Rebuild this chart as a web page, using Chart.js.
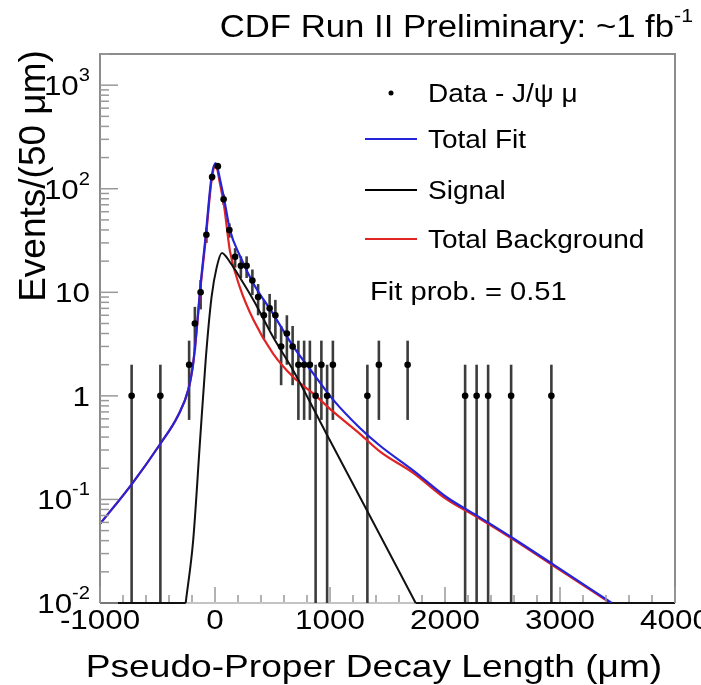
<!DOCTYPE html>
<html lang="en">
<head>
<meta charset="utf-8" />
<title>CDF Run II - Pseudo-Proper Decay Length</title>
<script src="https://cdn.jsdelivr.net/npm/chart.js@4.4.1/dist/chart.umd.min.js"></script>
<style>
  html, body { margin: 0; padding: 0; background: #fff; }
  canvas { display: block; }
</style>
</head>
<body>
<canvas id="grafico" width="701" height="685"></canvas>
<script>
// data: bin centres (um) and events per 50 um bin
const binCentres = [-725, -475, -225, -175, -125, -75, -25, 25, 75, 125, 175, 225, 275, 325, 375, 425, 475, 525, 575, 625, 675, 725, 775, 825, 875, 925, 975, 1025, 1325, 1425, 1675, 2175, 2275, 2375, 2575, 2925];
const events = [1, 1, 2, 5, 10, 36, 130, 165, 79, 40, 22, 18, 18, 13, 9, 6, 7, 6, 3, 4, 3, 2, 2, 2, 1, 2, 1, 2, 1, 2, 2, 1, 1, 1, 1, 1];

// fit curves
const fitX = [-1000, -725, -475, -320, -230, -190, -160, -130, -80, -30, 5, 45, 80, 130, 215, 335, 505, 680, 855, 1030, 1260, 1435, 1725, 2015, 2275, 2595, 2940, 3450];
const fitY = [0.058, 0.14, 0.345, 0.65, 1.17, 2.05, 4.3, 10.5, 36, 130, 177, 121, 79, 40, 22.7, 12.1, 6.2, 3.0, 1.64, 0.91, 0.49, 0.33, 0.19, 0.105, 0.070, 0.042, 0.0236, 0.01];
const bkgX = fitX;
const bkgY = [0.058, 0.14, 0.345, 0.65, 1.17, 2.05, 4.2, 10, 33, 120, 168, 110, 67, 25, 11.3, 5.4, 2.56, 1.52, 1.05, 0.70, 0.43, 0.29, 0.18, 0.10, 0.068, 0.041, 0.023, 0.0098];
// signal lies on the axis floor outside its range (null = break in the line)
const sigX = [-1000, -255, -255, -255, -190, -130, -80, -30, 15, 60, 130, 215, 335, 505, 680, 1000, 1300, 1745, 1745, 1745, 4000];
const sigY = [0.01, 0.01, null, 0.01, 0.04, 0.37, 2.3, 9, 17.5, 24, 19.6, 14, 8.4, 3.7, 1.76, 0.37, 0.087, 0.01, null, 0.01, 0.01];

// axis labels
const xTickValues = [-1000, 0, 1000, 2000, 3000, 4000];
const xTickLabels = ['-1000', '0', '1000', '2000', '3000', '4000'];
const yTickValues = [0.01, 0.1, 1, 10, 100, 1000];
const yTickBase = ['10', '10', '1', '10', '10', '10'];
const yTickExp = ['-2', '-1', '', '', '2', '3'];

const legendNames = ['Data - J/\u03c8 \u03bc', 'Total Fit', 'Signal', 'Total Background'];
const FUENTE = '"Liberation Sans", Arial, Helvetica, sans-serif';
const ESTIRA = 1.12;

function puntos(xs, ys) {
    return xs.map((x, i) => ({ x: x, y: ys[i] }));
}

// text drawn a bit wider, like the original
function texto(ctx, s, x, y, size, align, ancho) {
    ctx.save();
    ctx.translate(x, y);
    ctx.scale(ancho || ESTIRA, 1);
    ctx.font = size + 'px ' + FUENTE;
    ctx.textAlign = align || 'left';
    ctx.textBaseline = 'alphabetic';
    ctx.fillStyle = '#000';
    ctx.fillText(s, 0, 0);
    ctx.restore();
}
function anchoTexto(ctx, s, size, ancho) {
    ctx.save();
    ctx.font = size + 'px ' + FUENTE;
    const w = ctx.measureText(s).width * (ancho || ESTIRA);
    ctx.restore();
    return w;
}

// bottom axis line and error bars go under the curves
const barrasError = {
    id: 'barrasError',
    beforeDatasetsDraw(chart) {
        const { ctx, chartArea: a, scales: { x, y } } = chart;
        ctx.save();
        ctx.strokeStyle = '#c4c4c4';
        ctx.lineWidth = 2;
        ctx.beginPath();
        ctx.moveTo(a.left, a.bottom);
        ctx.lineTo(a.right, a.bottom);
        ctx.stroke();

        ctx.beginPath();
        ctx.rect(a.left, a.top, a.width, a.height);
        ctx.clip();
        ctx.strokeStyle = '#3c3c3c';
        ctx.lineWidth = 2.6;
        binCentres.forEach((c, i) => {
            const n = events[i];
            const e = Math.sqrt(n);
            const px = x.getPixelForValue(c);
            const arriba = y.getPixelForValue(n + e);
            const abajo = n - e > 0 ? y.getPixelForValue(n - e) : a.bottom;
            ctx.beginPath();
            ctx.moveTo(px, arriba);
            ctx.lineTo(px, abajo);
            ctx.stroke();
        });
        ctx.restore();
    }
};

const marco = {
    id: 'marco',
    afterDraw(chart) {
        const { ctx, chartArea: a, scales: { x, y } } = chart;
        ctx.save();
        // frame
        ctx.lineWidth = 2;
        ctx.strokeStyle = '#8c8c8c';
        ctx.beginPath();
        ctx.moveTo(a.left, a.bottom);
        ctx.lineTo(a.left, a.top);
        ctx.lineTo(a.right, a.top);
        ctx.lineTo(a.right, a.bottom);
        ctx.stroke();

        // ticks
        ctx.strokeStyle = '#999';
        ctx.lineWidth = 1.5;
        for (let v = -1000; v <= 4000; v += 200) {
            const px = x.getPixelForValue(v);
            const len = v % 1000 === 0 ? 16 : 8;
            ctx.beginPath();
            ctx.moveTo(px, a.bottom - 1);
            ctx.lineTo(px, a.bottom - len);
            ctx.stroke();
        }
        for (let d = -2; d <= 3; d++) {
            for (let m = 1; m <= 9; m++) {
                const v = m * Math.pow(10, d);
                if (v > y.max) break;
                const py = y.getPixelForValue(v);
                ctx.beginPath();
                ctx.moveTo(a.left, py);
                ctx.lineTo(a.left + (m === 1 ? 18 : 9), py);
                ctx.stroke();
            }
        }

        // x labels
        xTickValues.forEach((v, i) => {
            texto(ctx, xTickLabels[i], x.getPixelForValue(v), 629, 28, 'center');
        });
        // y labels with exponents
        yTickValues.forEach((v, i) => {
            const py = y.getPixelForValue(v);
            const derecha = 90;
            const wExp = yTickExp[i] ? anchoTexto(ctx, yTickExp[i], 18) : 0;
            texto(ctx, yTickBase[i], derecha - wExp, py + 10, 28, 'right');
            if (yTickExp[i]) texto(ctx, yTickExp[i], derecha - wExp, py - 4, 18, 'left');
        });

        // axis titles
        texto(ctx, 'Pseudo-Proper Decay Length (\u03bcm)', 374, 677, 32, 'center', 1.16);
        ctx.save();
        ctx.translate(45, 176);
        ctx.rotate(-Math.PI / 2);
        texto(ctx, 'Events/(50 \u03bcm)', 0, 0, 37, 'center', 1.0);
        ctx.restore();

        // top label
        const wSup = anchoTexto(ctx, '-1', 19);
        texto(ctx, 'CDF Run II Preliminary: ~1 fb', 693 - wSup, 37, 31, 'right');
        texto(ctx, '-1', 693 - wSup, 22, 19, 'left');

        // legend
        const colores = ['#000', '#2424d8', '#000', '#e02424'];
        const filas = [102, 148, 199, 248];
        legendNames.forEach((nombre, i) => {
            const cy = filas[i] - 9;
            if (i === 0) {
                ctx.fillStyle = '#000';
                ctx.beginPath();
                ctx.arc(391, cy, 2.5, 0, Math.PI * 2);
                ctx.fill();
            } else {
                ctx.strokeStyle = colores[i];
                ctx.lineWidth = 2;
                ctx.beginPath();
                ctx.moveTo(365, cy);
                ctx.lineTo(417, cy);
                ctx.stroke();
            }
            texto(ctx, nombre, 428, filas[i], 25, 'left');
        });
        texto(ctx, 'Fit prob. = 0.51', 370, 300, 26, 'left');
        ctx.restore();
    }
};

new Chart(document.getElementById('grafico').getContext('2d'), {
    type: 'line',
    data: {
        datasets: [
            {
                label: legendNames[0],
                data: puntos(binCentres, events),
                showLine: false,
                pointRadius: 3.3,
                pointBackgroundColor: '#000',
                pointBorderWidth: 0
            },
            {
                label: legendNames[1],
                data: puntos(fitX, fitY),
                borderColor: '#2424d8',
                borderWidth: 2.2,
                pointRadius: 0,
                cubicInterpolationMode: 'monotone'
            },
            {
                label: legendNames[2],
                data: puntos(sigX, sigY),
                borderColor: '#111',
                borderWidth: 2,
                pointRadius: 0,
                spanGaps: false,
                clip: 2,
                cubicInterpolationMode: 'monotone'
            },
            {
                label: legendNames[3],
                data: puntos(bkgX, bkgY),
                borderColor: '#e02424',
                borderWidth: 2.2,
                pointRadius: 0,
                cubicInterpolationMode: 'monotone'
            }
        ]
    },
    options: {
        responsive: false,
        animation: false,
        layout: { padding: { left: 100, right: 26, top: 54, bottom: 82 } },
        scales: {
            x: { type: 'linear', min: -1000, max: 4000, display: false },
            y: { type: 'logarithmic', min: 0.01, max: 2000, display: false }
        },
        plugins: {
            legend: { display: false },
            title: { display: false },
            tooltip: { enabled: false }
        }
    },
    plugins: [barrasError, marco]
});
</script>
</body>
</html>
